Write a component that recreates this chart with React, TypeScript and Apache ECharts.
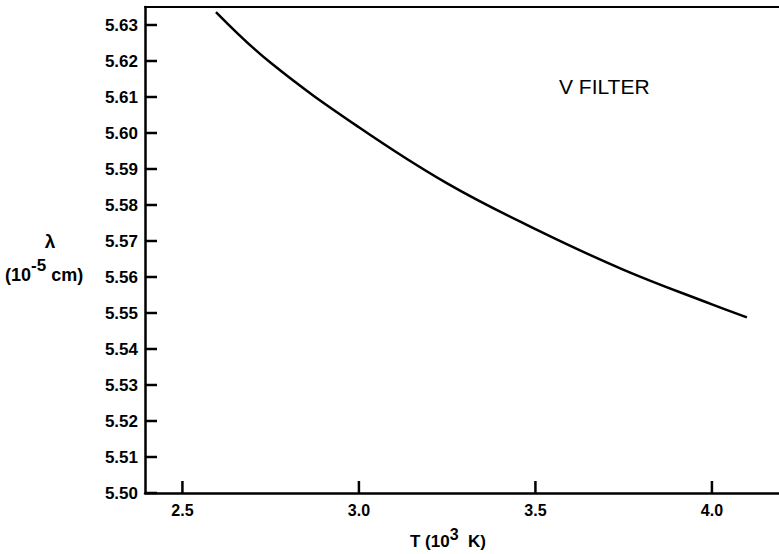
import React, { useEffect, useRef } from "react";
import * as echarts from "echarts";

// Temperature T (10^3 K)
const tValues = [2.595, 2.75, 3.0, 3.25, 3.5, 3.75, 4.0, 4.099];
// Effective wavelength λ (10^-5 cm)
const lambdaValues = [5.6336, 5.6195, 5.6016, 5.586, 5.5733, 5.562, 5.5524, 5.5488];

const xTicks = [2.5, 3.0, 3.5, 4.0];
const yTicks = [5.5, 5.51, 5.52, 5.53, 5.54, 5.55, 5.56, 5.57, 5.58, 5.59, 5.6, 5.61, 5.62, 5.63];

const X_MIN = 2.394;
const X_MAX = 4.19;
const Y_MIN = 5.5;
const Y_MAX = 5.635;

const FONT = "Liberation Sans";

export default function App() {
  const ref = useRef<HTMLDivElement>(null);
  useEffect(() => {
    if (!ref.current) return;
    const chart = echarts.init(ref.current, null, { renderer: "svg" });
    const data = tValues.map((t, i) => [t, lambdaValues[i]]);
    chart.setOption({
      animation: false,
      backgroundColor: "#ffffff",
      grid: { left: 145, right: 0, top: 7, bottom: 61 },
      xAxis: [
        {
          type: "value",
          min: X_MIN,
          max: X_MAX,
          position: "bottom",
          axisLine: { show: true, lineStyle: { color: "#000", width: 2.5 } },
          axisTick: { show: false },
          axisLabel: {
            customValues: xTicks,
            formatter: (v: number) => v.toFixed(1),
            color: "#000",
            fontFamily: FONT,
            fontWeight: "bold",
            fontSize: 16,
            margin: 9,
          },
          splitLine: { show: false },
        },
        {
          type: "value",
          min: X_MIN,
          max: X_MAX,
          position: "top",
          axisLine: { show: true, lineStyle: { color: "#000", width: 2 } },
          axisTick: { show: false },
          axisLabel: { show: false },
          splitLine: { show: false },
        },
      ],
      yAxis: {
        type: "value",
        min: Y_MIN,
        max: Y_MAX,
        axisLine: { show: true, lineStyle: { color: "#000", width: 2.5 } },
        axisTick: { show: false },
        axisLabel: {
          customValues: yTicks,
          formatter: (v: number) => v.toFixed(2),
          color: "#000",
          fontFamily: FONT,
          fontWeight: "bold",
          fontSize: 17,
          margin: 7,
        },
        splitLine: { show: false },
      },
      series: [
        {
          type: "line",
          xAxisIndex: 0,
          data,
          smooth: 0.4,
          showSymbol: false,
          lineStyle: { color: "#000", width: 2.5 },
        },
        {
          type: "custom",
          xAxisIndex: 0,
          yAxisIndex: 0,
          clip: false,
          silent: true,
          data: xTicks.map((v) => [v, Y_MIN]),
          renderItem: (params: any, api: any) => {
            const p = api.coord([api.value(0), api.value(1)]);
            return {
              type: "rect",
              shape: { x: p[0] - 1.25, y: p[1] - 12, width: 2.5, height: 12 },
              style: { fill: "#000" },
            };
          },
        },
        {
          type: "custom",
          xAxisIndex: 0,
          yAxisIndex: 0,
          clip: false,
          silent: true,
          data: yTicks.map((v) => [X_MIN, v]),
          renderItem: (params: any, api: any) => {
            const p = api.coord([api.value(0), api.value(1)]);
            return {
              type: "rect",
              shape: { x: p[0], y: p[1] - 1.25, width: 12, height: 2.5 },
              style: { fill: "#000" },
            };
          },
        },
      ],
      graphic: [
        {
          type: "text",
          left: 559,
          top: 76,
          style: { text: "V FILTER", fontFamily: FONT, fontSize: 21, fill: "#000" },
        },
        {
          type: "text",
          x: 50,
          y: 241,
          style: { text: "λ", fontFamily: FONT, fontWeight: "bold", fontSize: 19, fill: "#000", align: "center", verticalAlign: "middle" },
        },
        {
          type: "text",
          x: 5,
          y: 270,
          style: {
            text: "{n|(10}{s|-5}{n| cm)}",
            verticalAlign: "middle",
            rich: {
              n: { fontFamily: FONT, fontWeight: "bold", fontSize: 18, fill: "#000", color: "#000", verticalAlign: "bottom" },
              s: { fontFamily: FONT, fontWeight: "bold", fontSize: 17, fill: "#000", color: "#000", verticalAlign: "top", padding: [0, 0, 10, 0] },
            },
          },
        },
        {
          type: "text",
          x: 410,
          y: 538,
          style: {
            text: "{n|T (10}{s|3}{n|  K)}",
            verticalAlign: "middle",
            rich: {
              n: { fontFamily: FONT, fontWeight: "bold", fontSize: 17, fill: "#000", color: "#000", verticalAlign: "bottom" },
              s: { fontFamily: FONT, fontWeight: "bold", fontSize: 16, fill: "#000", color: "#000", verticalAlign: "top", padding: [0, 0, 8, 0] },
            },
          },
        },
      ],
    });
    return () => chart.dispose();
  }, []);
  return <div ref={ref} style={{ position: "fixed", left: 0, top: 0, width: 779, height: 554 }} />;
}
